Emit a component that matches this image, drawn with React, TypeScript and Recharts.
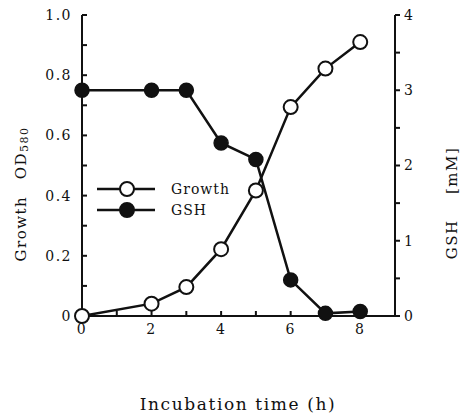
import { LineChart, Line, XAxis, YAxis, Legend } from "recharts";

const hours = [0, 2, 3, 4, 5, 6, 7, 8];
const growthOD = [0.0, 0.041, 0.096, 0.222, 0.417, 0.694, 0.822, 0.91];
const gshMM = [3.0, 3.0, 3.0, 2.3, 2.08, 0.48, 0.035, 0.06];

const xTicks = [0, 1, 2, 3, 4, 5, 6, 7, 8, 9];
const xLabels = [0, 2, 4, 6, 8];
const leftTicks = [0, 0.1, 0.2, 0.3, 0.4, 0.5, 0.6, 0.7, 0.8, 0.9, 1.0];
const leftLabels = ["0", "", "0.2", "", "0.4", "", "0.6", "", "0.8", "", "1.0"];
const rightTicks = [0, 0.5, 1, 1.5, 2, 2.5, 3, 3.5, 4];
const rightLabels = ["0", "", "1", "", "2", "", "3", "", "4"];

const rows = hours.map((h, i) => ({ h, growth: growthOD[i], gsh: gshMM[i] }));

const FONT = "'DejaVu Serif', serif";
const INK = "#111";

const tickStyle = { fontFamily: FONT, fontSize: 14, fill: INK, letterSpacing: 1.5 };
const titleStyle = { fontFamily: FONT, fontSize: 15, fill: INK, letterSpacing: 1.5 };

function LegendBox() {
  const items = [
    { name: "Growth", fill: "#fff" },
    { name: "GSH", fill: INK },
  ];
  return (
    <div style={{ fontFamily: FONT, fontSize: 14, color: INK }}>
      {items.map((it) => (
        <div key={it.name} style={{ display: "flex", alignItems: "center", height: 21 }}>
          <svg width={60} height={18}>
            <line x1={1} y1={9} x2={59} y2={9} stroke={INK} strokeWidth={2.5} />
            <circle cx={31} cy={9} r={7} fill={it.fill} stroke={INK} strokeWidth={2} />
          </svg>
          <span style={{ marginLeft: 15, letterSpacing: 1 }}>{it.name}</span>
        </div>
      ))}
    </div>
  );
}

export default function App() {
  return (
    <div style={{ position: "absolute", left: 0, top: 0, background: "#fff" }}>
      <LineChart
        width={465}
        height={417}
        data={rows}
        margin={{ top: 15, right: 0, bottom: 0, left: 0 }}
      >
        <XAxis
          dataKey="h"
          type="number"
          domain={[0, 9]}
          ticks={xTicks}
          tickFormatter={(v: number) => (xLabels.includes(v) ? String(v) : "")}
          tickSize={-5}
          tickMargin={13}
          tick={tickStyle}
          stroke={INK}
          strokeWidth={2}
          height={59}
          label={{
            content: () => (
              <text
                x={238}
                y={410}
                textAnchor="middle"
                style={{ ...titleStyle, fontSize: 17, letterSpacing: 1.6 }}
              >
                Incubation time (h)
              </text>
            ),
          }}
        />
        <XAxis
          xAxisId="top"
          dataKey="h"
          type="number"
          orientation="top"
          domain={[0, 9]}
          ticks={xTicks}
          tick={false}
          tickSize={-4}
          stroke={INK}
          strokeWidth={2}
          height={0}
        />
        <YAxis
          yAxisId="od"
          type="number"
          domain={[0, 1]}
          ticks={leftTicks}
          tickFormatter={(v: number, i: number) => leftLabels[i] ?? ""}
          tickSize={-5}
          tickMargin={15}
          tick={tickStyle}
          stroke={INK}
          strokeWidth={2}
          width={82}
          label={{
            content: () => (
              <text
                x={26}
                y={194}
                transform="rotate(-90, 26, 194)"
                textAnchor="middle"
                style={titleStyle}
              >
                Growth{"\u2003"}OD
                <tspan fontSize={11} dy={2}>580</tspan>
              </text>
            ),
          }}
        />
        <YAxis
          yAxisId="gsh"
          orientation="right"
          type="number"
          domain={[0, 4]}
          ticks={rightTicks}
          tickFormatter={(v: number, i: number) => rightLabels[i] ?? ""}
          tickSize={5}
          tickMargin={4}
          tick={tickStyle}
          stroke={INK}
          strokeWidth={2}
          width={70}
          label={{
            content: () => (
              <text
                x={457}
                y={203}
                transform="rotate(-90, 457, 203)"
                textAnchor="middle"
                style={titleStyle}
              >
                GSH{"\u2003\u2002"}[mM]
              </text>
            ),
          }}
        />
        <Legend
          content={() => <LegendBox />}
          wrapperStyle={{ position: "absolute", left: 96, top: 178, width: 180 }}
        />
        <Line
          yAxisId="gsh"
          dataKey="gsh"
          name="GSH"
          stroke={INK}
          strokeWidth={2.5}
          dot={{ r: 7, fill: INK, stroke: INK, strokeWidth: 1.5 }}
          isAnimationActive={false}
        />
        <Line
          yAxisId="od"
          dataKey="growth"
          name="Growth"
          stroke={INK}
          strokeWidth={2.5}
          dot={{ r: 7, fill: "#fff", stroke: INK, strokeWidth: 2 }}
          isAnimationActive={false}
        />
      </LineChart>
    </div>
  );
}
